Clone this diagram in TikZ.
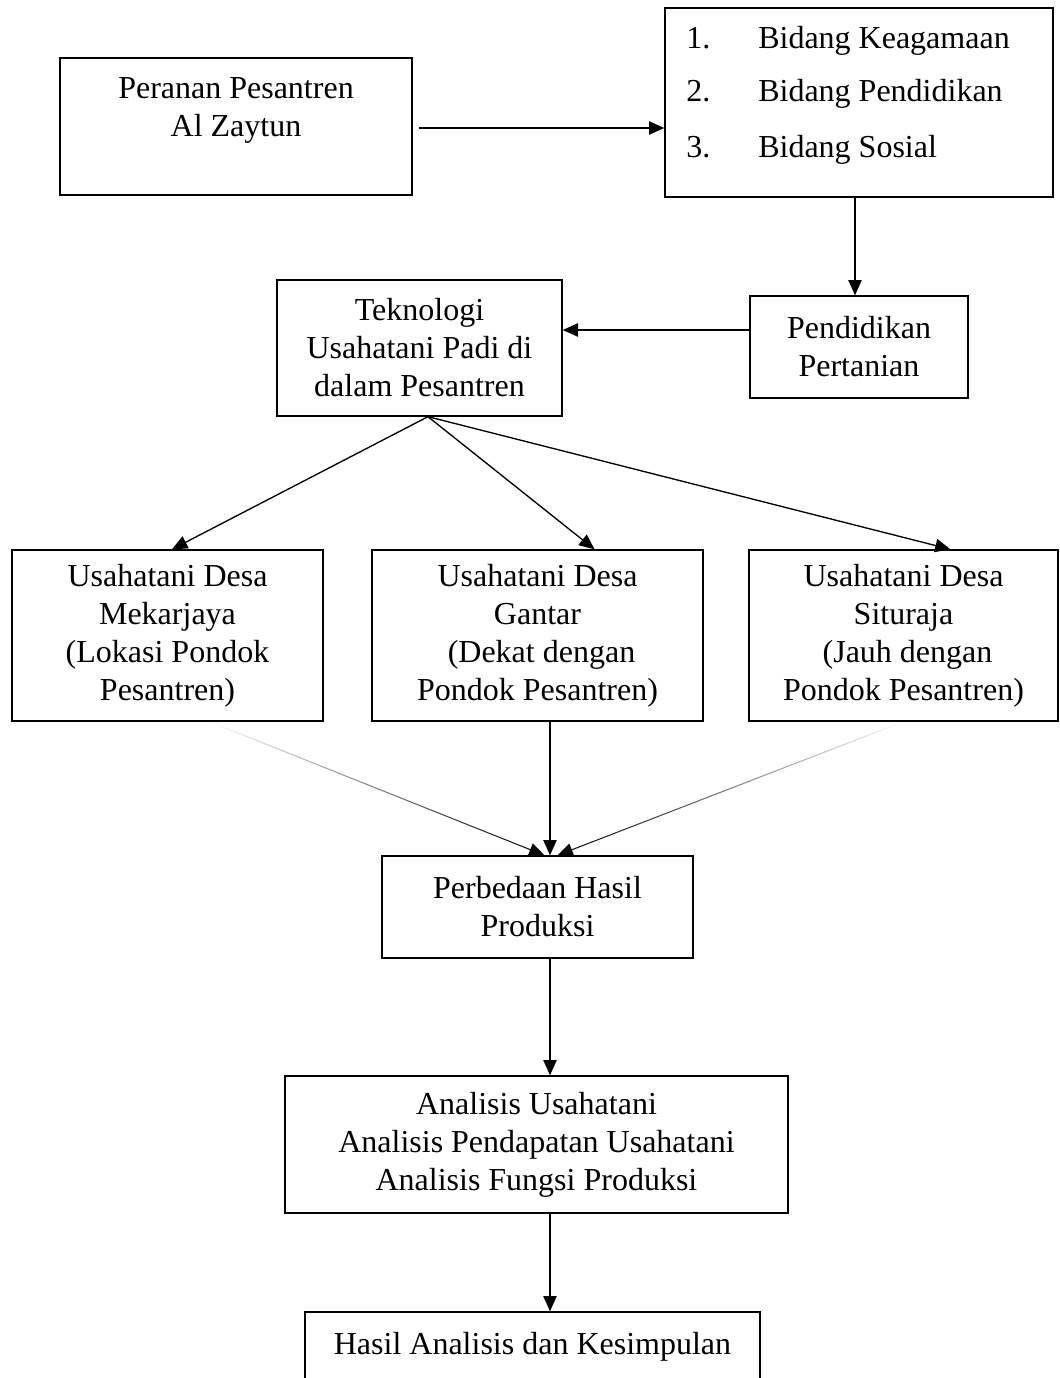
\documentclass[tikz,border=0pt]{standalone}
\usepackage{fontspec}
\setmainfont{Liberation Serif}
\usetikzlibrary{arrows.meta,calc,fadings}
\begin{document}
\begin{tikzpicture}[x=0.75pt,y=-0.75pt,
  box/.style={draw,line width=1pt,inner sep=0pt,align=center,font=\fontsize{24}{28.5}\selectfont},
  txt/.style={inner sep=0pt,align=center,font=\fontsize{24}{28.5}\selectfont},
  arr/.style={line width=1pt,-{Triangle[length=11.5pt,width=10pt]}},
  faint/.style={line width=0.8pt,-{Triangle[length=11.5pt,width=10pt]},path fading=north}]
\clip (0,0) rectangle (1060,1378);
\fill[white] (0,0) rectangle (1060,1378);

% boxes
\node[box,minimum width=264pt,minimum height=102.75pt] (per) at (236,126.5) {};
\node[txt] (perT) at (236,110) {Peranan Pesantren\\Al Zaytun};

\node[box,minimum width=291pt,minimum height=141.75pt] (list) at (859,102.5) {};
\node[txt,anchor=base west] (n1) at (686,48) {1.};
\node[txt,anchor=base west] (n2) at (686,101) {2.};
\node[txt,anchor=base west] (n3) at (686,157) {3.};
\node[txt,anchor=base west] (b1) at (758,48) {Bidang Keagamaan};
\node[txt,anchor=base west] (b2) at (758,101) {Bidang Pendidikan};
\node[txt,anchor=base west] (b3) at (758,157) {Bidang Sosial};

\node[box,minimum width=213.75pt,minimum height=102pt] (tek) at (419.5,348) {Teknologi\\Usahatani Padi di\\dalam Pesantren};
\node[box,minimum width=163.5pt,minimum height=76.5pt] (pend) at (859,347) {Pendidikan\\Pertanian};

\node[box,minimum width=233.25pt,minimum height=128.25pt] (mek) at (167.5,635.5) {Usahatani Desa\\Mekarjaya\\(Lokasi Pondok\\Pesantren)};
\node[box,minimum width=248.25pt,minimum height=128.25pt] (gan) at (537.5,635.5) {Usahatani Desa\\Gantar\\\hspace*{6pt}(Dekat dengan\\Pondok Pesantren)};
\node[box,minimum width=231.75pt,minimum height=128.25pt] (sit) at (903.5,635.5) {Usahatani Desa\\Situraja\\\hspace*{6pt}(Jauh dengan\\Pondok Pesantren)};

\node[box,minimum width=233.25pt,minimum height=76.5pt] (perb) at (537.5,907) {Perbedaan Hasil\\Produksi};
\node[box,minimum width=377.25pt,minimum height=102.75pt] (ana) at (536.5,1144.5) {Analisis Usahatani\\Analisis Pendapatan Usahatani\\Analisis Fungsi Produksi};
\node[box,minimum width=341.25pt,minimum height=96pt] (has) at (532.5,1376) {};
\node[txt] (hasT) at (532.5,1347) {Hasil Analisis dan Kesimpulan};

% connectors
\coordinate (a1) at ($(per.east)+(6,1.5)$);
\draw[arr] (a1) -- (list.west |- a1);
\draw[arr] ($(list.south)+(-4,0)$) -- ($(pend.north)+(-4,0)$);
\draw[arr] ($(pend.west)+(0,-17)$) coordinate (p1) -- (tek.east |- p1);

\coordinate (apex) at ($(tek.south)+(8.5,0)$);
\draw[arr] (apex) -- ($(mek.north)+(4.5,0)$);
\draw[arr] (apex) -- ($(gan.north)+(57,0)$);
\draw[arr] (apex) -- ($(sit.north)+(47,0)$);

\draw[faint] ($(mek.south)+(42,0)$) -- ($(perb.north)+(7,0)$);
\draw[arr] ($(gan.south)+(12.5,0)$) -- ($(perb.north)+(12.5,0)$);
\draw[faint] ($(sit.south)+(0,0)$) -- ($(perb.north)+(20,0)$);

\draw[arr] ($(perb.south)+(12.5,0)$) -- ($(ana.north)+(13.5,0)$);
\draw[arr] ($(ana.south)+(13.5,0)$) -- ($(has.north)+(17.5,0)$);
\end{tikzpicture}
\end{document}
